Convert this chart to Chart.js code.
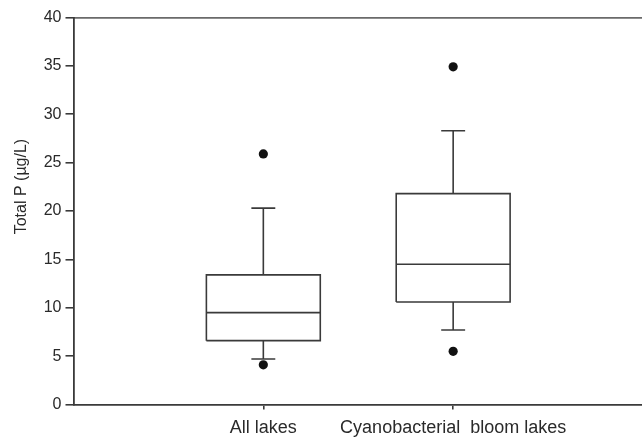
<!DOCTYPE html>
<html>
<head>
<meta charset="utf-8">
<script src="https://cdn.jsdelivr.net/npm/chart.js@4"></script>
<style>
  html, body { margin: 0; padding: 0; background: #ffffff; overflow: hidden; }
  #wrap { width: 642px; height: 438px; overflow: hidden; position: relative; }
  canvas { display: block; }
</style>
</head>
<body>
<div id="wrap"><canvas id="c" width="660" height="438"></canvas></div>
<script>
// ---- data ----
const categories   = ['All lakes', 'Cyanobacterial  bloom lakes'];
const whiskerLow   = [4.7, 7.7];
const quartile1    = [6.6, 10.6];
const medians      = [9.5, 14.5];
const quartile3    = [13.4, 21.8];
const whiskerHigh  = [20.3, 28.3];
const outliers     = [[4.1, 25.9], [5.5, 34.9]];
const yTicks       = [0, 5, 10, 15, 20, 25, 30, 35, 40];
const yTitle       = 'Total P (\u00b5g/L)';

// ---- styling constants ----
const BOX_HALF = 0.30;
const CAP_HALF = 0.063;
const LINE_COLOR = '#3a3a3a';
const LINE_W = 1.6;

function lineDs(points) {
  return {
    type: 'line', data: points, showLine: true, fill: false,
    borderColor: LINE_COLOR, borderWidth: LINE_W, pointRadius: 0,
    tension: 0, borderCapStyle: 'butt', borderJoinStyle: 'miter'
  };
}

const datasets = [];
categories.forEach((cat, i) => {
  const x = i + 1;
  datasets.push(lineDs([
    {x: x - BOX_HALF, y: quartile1[i]}, {x: x + BOX_HALF, y: quartile1[i]},
    {x: x + BOX_HALF, y: quartile3[i]}, {x: x - BOX_HALF, y: quartile3[i]},
    {x: x - BOX_HALF, y: quartile1[i]}
  ]));
  datasets.push(lineDs([{x: x - BOX_HALF, y: medians[i]}, {x: x + BOX_HALF, y: medians[i]}]));
  datasets.push(lineDs([{x: x, y: quartile3[i]}, {x: x, y: whiskerHigh[i]}]));
  datasets.push(lineDs([{x: x - CAP_HALF, y: whiskerHigh[i]}, {x: x + CAP_HALF, y: whiskerHigh[i]}]));
  datasets.push(lineDs([{x: x, y: quartile1[i]}, {x: x, y: whiskerLow[i]}]));
  datasets.push(lineDs([{x: x - CAP_HALF, y: whiskerLow[i]}, {x: x + CAP_HALF, y: whiskerLow[i]}]));
  datasets.push({
    type: 'scatter',
    data: outliers[i].map(v => ({x: x, y: v})),
    pointRadius: 4.6, pointHoverRadius: 4.6,
    pointBackgroundColor: '#111', pointBorderColor: '#111', borderWidth: 0
  });
});

const FONT = 'Liberation Sans, Arial, Helvetica, sans-serif';
const TEXT = '#2a2a2a';

new Chart(document.getElementById('c'), {
  type: 'scatter',
  data: { datasets },
  options: {
    responsive: false,
    animation: false,
    devicePixelRatio: 1,
    layout: { padding: { top: 17.5, right: 17, bottom: 0, left: 0 } },
    plugins: { legend: { display: false }, tooltip: { enabled: false } },
    scales: {
      x: {
        type: 'linear', min: 0, max: 3, position: 'bottom',
        afterBuildTicks: s => { s.ticks = categories.map((c, i) => ({ value: i + 1 })); },
        afterFit: s => { s.height = 33.5; },
        ticks: {
          autoSkip: false, maxRotation: 0, padding: 8,
          color: TEXT, font: { family: FONT, size: 18 },
          callback: v => categories[v - 1] || ''
        },
        grid: { display: true, drawOnChartArea: false, drawTicks: true, tickLength: 5, color: LINE_COLOR, lineWidth: 1.6 },
        border: { display: true, color: LINE_COLOR, width: 1.8 }
      },
      xTop: {
        type: 'linear', min: 0, max: 3, position: 'top',
        afterFit: s => { s.height = 0; },
        ticks: { display: false },
        grid: { display: false, drawTicks: false },
        border: { display: true, color: '#6a6a6a', width: 1.8 }
      },
      y: {
        type: 'linear', min: 0, max: 40, position: 'left',
        afterBuildTicks: s => { s.ticks = yTicks.map(v => ({ value: v })); },
        afterFit: s => { s.width = 73.5; },
        ticks: { color: TEXT, font: { family: FONT, size: 16 }, padding: 4 },
        grid: { display: true, drawOnChartArea: false, drawTicks: true, tickLength: 8, color: LINE_COLOR, lineWidth: 1.6 },
        border: { display: true, color: LINE_COLOR, width: 1.8 },
        title: {
          display: true,
          text: '           ' + yTitle,
          color: TEXT, font: { family: FONT, size: 16 },
          padding: { top: 12, bottom: 4 }
        }
      }
    }
  }
});
</script>
</body>
</html>
